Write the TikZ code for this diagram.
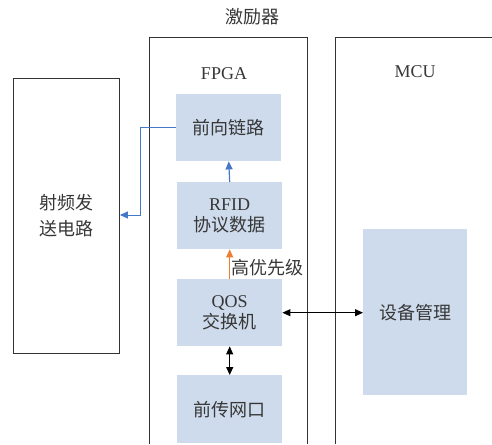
\documentclass[tikz,border=0pt]{standalone}
\usepackage{fontspec}
\setmainfont{Liberation Serif}
\newfontfamily\cjk{Noto Sans CJK SC}
\usetikzlibrary{arrows.meta}
\definecolor{boxfill}{RGB}{206,219,236}
\definecolor{txt}{RGB}{55,55,55}
\definecolor{blueline}{RGB}{70,120,200}
\definecolor{orangeline}{RGB}{237,125,49}
\tikzset{
  blk/.style={fill=boxfill, draw=none, minimum width=105pt, align=center, text=txt, font=\fontsize{18}{22}\selectfont, inner sep=0pt},
  lbl/.style={text=txt, font=\fontsize{18}{22}\selectfont, inner sep=0pt},
  frame/.style={draw=black!80, line width=0.9pt},
  tip/.style={-{Triangle[length=8pt,width=7pt]}},
  dtip/.style={{Triangle[length=8pt,width=7pt]}-{Triangle[length=8pt,width=7pt]}},
}
\begin{document}
\begin{tikzpicture}[x=1pt,y=-1pt]
\useasboundingbox (0,0) rectangle (492,444);
% frames
\draw[frame] (149,444) -- (149,37) -- (307,37) -- (307,444);
\draw[frame] (335,444) -- (335,37) -- (492,37);
\node[draw=black!80, line width=0.9pt, minimum width=106pt, minimum height=275pt, inner sep=0pt, anchor=north west, align=center, text=txt, font=\fontsize{18}{26}\selectfont] (rf) at (13,78) {\cjk 射频发\\\cjk 送电路};
% labels
\node[lbl] (jl) at (252,17) {\cjk 激励器};
\node[lbl] (fpga) at (224,74) {FPGA};
\node[lbl] (mcu) at (415,72) {MCU};
% blocks
\node[blk, minimum height=67pt, anchor=north west] (fwd) at (176,94) {\cjk 前向链路};
\node[blk, minimum height=67pt, anchor=north west] (rfid) at (177,182) {RFID\\[-1pt]{\cjk 协议数据}};
\node[blk, minimum height=67pt, anchor=north west] (qos) at (177,279) {QOS\\[-1pt]{\cjk 交换机}};
\node[blk, minimum height=68pt, anchor=north west] (port) at (177,375) {\cjk 前传网口};
\node[blk, minimum width=104pt, minimum height=166pt, anchor=north west] (dev) at (363,229) {\cjk 设备管理};
% connectors
\draw[blueline, line width=1pt, tip] (fwd.west) -- ++(-36,0) |- (rf.east |- 0,215);
\draw[blueline, line width=1.2pt, tip] (rfid.north) -- (fwd.south);
\draw[orangeline, line width=1.2pt, tip] (qos.north) -- node[lbl, right, xshift=1pt, yshift=-3pt] (hp) {\cjk 高优先级} (rfid.south);
\draw[black, line width=1.2pt, dtip] (qos.south) -- (port.north);
\draw[black, line width=1pt, dtip] (qos.east) -- (dev.west |- qos.east);
\end{tikzpicture}
\end{document}
